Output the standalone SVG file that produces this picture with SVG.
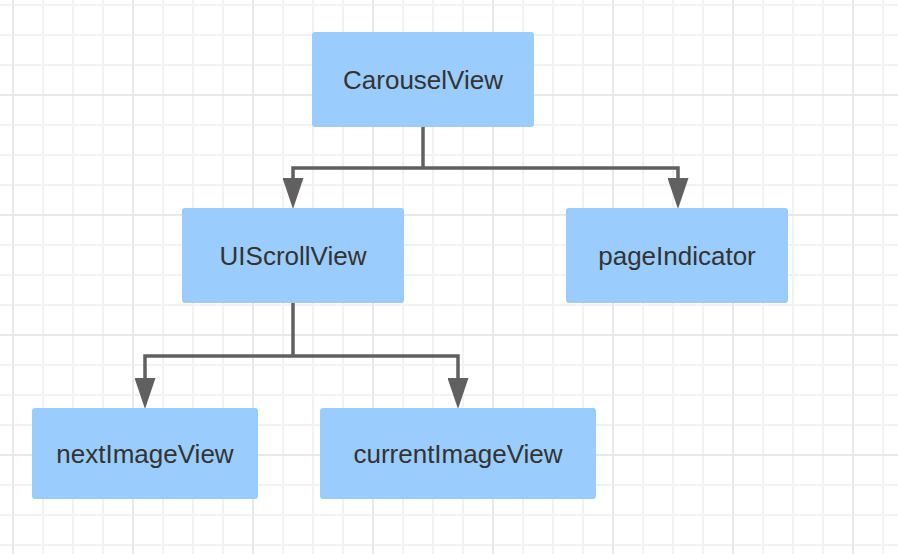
<svg xmlns="http://www.w3.org/2000/svg" width="898" height="554" viewBox="0 0 898 554">
  <style>
    .box { fill: #9acdfe; }
    .label { font-family: "Liberation Sans", Arial, Helvetica, sans-serif; font-size: 26px; fill: #333333; text-anchor: middle; }
    .conn { fill: none; stroke: #606060; stroke-width: 3.5; }
  </style>
  <defs>
    <pattern id="gridThin" patternUnits="userSpaceOnUse" x="12" y="4" width="30" height="30">
      <rect x="0" y="0" width="30" height="2" fill="#f2f2f2"/>
      <rect x="0" y="0" width="2" height="30" fill="#f2f2f2"/>
    </pattern>
    <pattern id="gridThick" patternUnits="userSpaceOnUse" x="12" y="-26" width="120" height="120">
      <rect x="0" y="0" width="120" height="2" fill="#e8e8e8"/>
      <rect x="0" y="0" width="2" height="120" fill="#e8e8e8"/>
    </pattern>
    <marker id="arrow" markerUnits="userSpaceOnUse" viewBox="0 0 31 21" refX="10" refY="10.5" markerWidth="31" markerHeight="21" orient="auto">
      <path d="M0,0 L31,10.5 L0,21 Z" fill="#606060"/>
    </marker>
  </defs>

  <rect x="0" y="0" width="898" height="554" fill="#ffffff"/>
  <rect x="0" y="0" width="898" height="554" fill="url(#gridThin)"/>
  <rect x="0" y="0" width="898" height="554" fill="url(#gridThick)"/>

  <g id="connectors">
    <path class="conn" d="M423,127 V168"/>
    <path class="conn" d="M423,168 H293 V188" marker-end="url(#arrow)"/>
    <path class="conn" d="M423,168 H678 V188" marker-end="url(#arrow)"/>
    <path class="conn" d="M293,303 V356"/>
    <path class="conn" d="M293,356 H145 V388" marker-end="url(#arrow)"/>
    <path class="conn" d="M293,356 H458 V388" marker-end="url(#arrow)"/>
  </g>

  <g id="node-carouselview">
    <rect class="box" x="312" y="32" width="222" height="95" rx="3"/>
    <text class="label" x="423" y="89">CarouselView</text>
  </g>
  <g id="node-uiscrollview">
    <rect class="box" x="182" y="208" width="222" height="95" rx="3"/>
    <text class="label" x="293" y="265">UIScrollView</text>
  </g>
  <g id="node-pageindicator">
    <rect class="box" x="566" y="208" width="222" height="95" rx="3"/>
    <text class="label" x="677" y="265">pageIndicator</text>
  </g>
  <g id="node-nextimageview">
    <rect class="box" x="32" y="408" width="226" height="91" rx="3"/>
    <text class="label" x="145" y="463">nextImageView</text>
  </g>
  <g id="node-currentimageview">
    <rect class="box" x="320" y="408" width="276" height="91" rx="3"/>
    <text class="label" x="458" y="463">currentImageView</text>
  </g>
</svg>
